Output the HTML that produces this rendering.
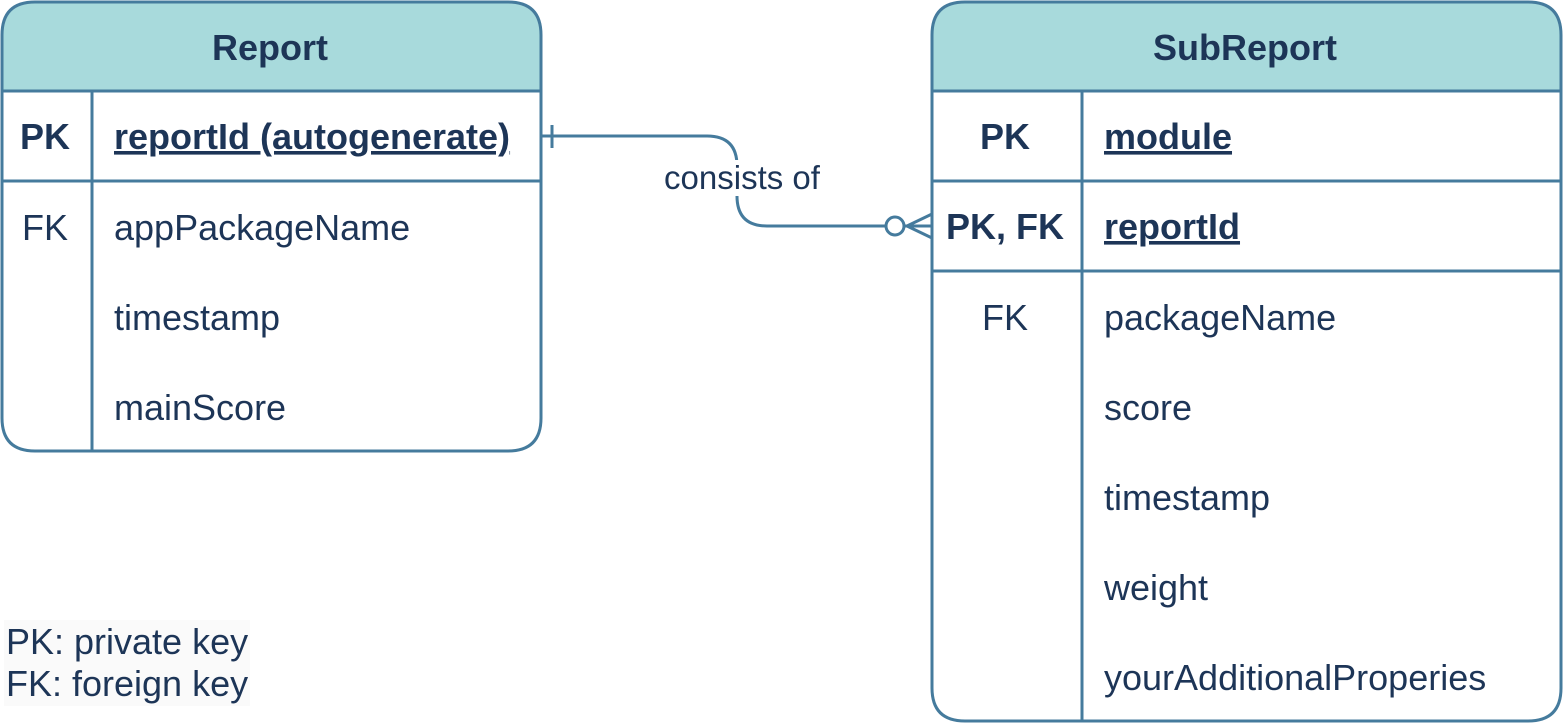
<!DOCTYPE html>
<html><head><meta charset="utf-8"><style>html,body{margin:0;padding:0;background:#fff}svg{display:block}</style></head>
<body>
<svg width="1563" height="723" viewBox="0 0 1563 723" xmlns="http://www.w3.org/2000/svg" font-family="Liberation Sans, Arial, sans-serif" fill="#1d3557">
<!-- Report -->
<path d="M2,91 V35 Q2,2 35,2 H508 Q541,2 541,35 V91 Z" fill="#a8dadc"/>
<path d="M2,35 Q2,2 35,2 H508 Q541,2 541,35 V418 Q541,451 508,451 H35 Q2,451 2,418 Z" fill="none" stroke="#457b9d" stroke-width="3"/>
<g stroke="#457b9d" stroke-width="3"><line x1="2" y1="91" x2="541" y2="91"/><line x1="2" y1="181" x2="541" y2="181"/><line x1="92" y1="91" x2="92" y2="451"/></g>
<g font-size="36">
<text x="270" y="60" text-anchor="middle" font-weight="bold">Report</text>
<text x="45" y="149" text-anchor="middle" font-weight="bold">PK</text>
<text x="114" y="149" font-weight="bold" text-decoration="underline">reportId (autogenerate)</text>
<text x="45" y="240" text-anchor="middle">FK</text>
<text x="114" y="240">appPackageName</text>
<text x="114" y="330">timestamp</text>
<text x="114" y="420">mainScore</text>
</g>
<!-- SubReport -->
<path d="M932,91 V35 Q932,2 965,2 H1528 Q1561,2 1561,35 V91 Z" fill="#a8dadc"/>
<path d="M932,35 Q932,2 965,2 H1528 Q1561,2 1561,35 V688 Q1561,721 1528,721 H965 Q932,721 932,688 Z" fill="none" stroke="#457b9d" stroke-width="3"/>
<g stroke="#457b9d" stroke-width="3"><line x1="932" y1="91" x2="1561" y2="91"/><line x1="932" y1="181" x2="1561" y2="181"/><line x1="932" y1="271" x2="1561" y2="271"/><line x1="1082" y1="91" x2="1082" y2="721"/></g>
<g font-size="36">
<text x="1245" y="60" text-anchor="middle" font-weight="bold">SubReport</text>
<text x="1005" y="149" text-anchor="middle" font-weight="bold">PK</text>
<text x="1104" y="149" font-weight="bold" text-decoration="underline">module</text>
<text x="1005" y="239" text-anchor="middle" font-weight="bold">PK, FK</text>
<text x="1104" y="239" font-weight="bold" text-decoration="underline">reportId</text>
<text x="1005" y="330" text-anchor="middle">FK</text>
<text x="1104" y="330">packageName</text>
<text x="1104" y="420">score</text>
<text x="1104" y="510">timestamp</text>
<text x="1104" y="600">weight</text>
<text x="1104" y="690">yourAdditionalProperies</text>
</g>
<!-- connector -->
<g stroke="#457b9d" stroke-width="3" fill="none">
<path d="M541,136 H707 Q737,136 737,166 V196 Q737,226 767,226 H886"/>
<line x1="552" y1="125" x2="552" y2="148"/>
<circle cx="895" cy="226" r="9" fill="#fff"/>
<line x1="904" y1="226" x2="932" y2="226"/>
<line x1="907" y1="226" x2="932" y2="214"/>
<line x1="907" y1="226" x2="932" y2="238"/>
</g>
<rect x="662" y="160" width="160" height="36" fill="#fff"/>
<text x="742" y="189" text-anchor="middle" font-size="33">consists of</text>
<!-- legend -->
<rect x="4" y="620" width="246" height="86" fill="#fafafa"/>
<text x="6" y="654" font-size="36">PK: private key</text>
<text x="6" y="696" font-size="36">FK: foreign key</text>
</svg>
</body></html>
